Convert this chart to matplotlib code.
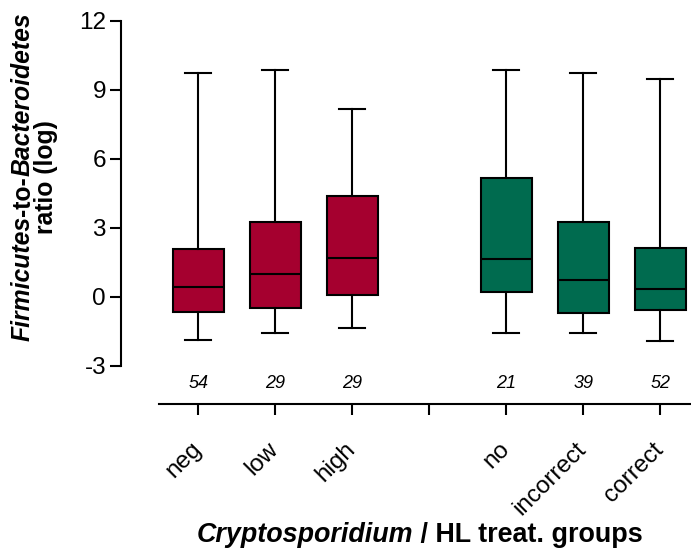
import numpy as np
import matplotlib
matplotlib.use("Agg")
import matplotlib.pyplot as plt

plt.rcParams['font.family'] = ['Liberation Sans', 'DejaVu Sans']
plt.rcParams['axes.unicode_minus'] = False

# ---------------------------
# Data: F/B ratio (log) per group
# ---------------------------
groups = ['neg', 'low', 'high', 'no', 'incorrect', 'correct']
whislo = [-1.90, -1.59, -1.38, -1.59, -1.57, -1.91]
q1 = [-0.65, -0.50, 0.07, 0.22, -0.70, -0.58]
med = [0.42, 0.97, 1.67, 1.65, 0.73, 0.35]
q3 = [2.07, 3.26, 4.36, 5.15, 3.26, 2.10]
whishi = [9.74, 9.86, 8.16, 9.86, 9.73, 9.47]
n_obs = [54, 29, 29, 21, 39, 52]

RED = '#A5002F'
GREEN = '#006B4F'
colors = [RED, RED, RED, GREEN, GREEN, GREEN]

# two blocks of three boxes with an empty slot between them
xpos = [1, 2, 3, 5, 6, 7]
tick_pos = [1, 2, 3, 4, 5, 6, 7]
tick_lab = ['neg', 'low', 'high', '', 'no', 'incorrect', 'correct']

W, H = 691, 552
fig = plt.figure(figsize=(W / 100, H / 100), dpi=100)
ax = fig.add_axes([121.3 / W, (H - 404.3) / H, 1 - 121.3 / W, (404.3 - 13.8) / H])

stats = []
for i in range(len(groups)):
    stats.append(dict(label=groups[i], whislo=whislo[i], q1=q1[i], med=med[i],
                      q3=q3[i], whishi=whishi[i], fliers=[]))

lw = 1.5
bp = ax.bxp(stats, positions=xpos, widths=0.667, capwidths=0.34,
            patch_artist=True, showfliers=False,
            boxprops=dict(linewidth=lw, edgecolor='black'),
            medianprops=dict(linewidth=lw, color='black'),
            whiskerprops=dict(linewidth=lw, color='black'),
            capprops=dict(linewidth=lw, color='black'))
for patch, c in zip(bp['boxes'], colors):
    patch.set_facecolor(c)

# group sizes above the x axis
for x, n in zip(xpos, n_obs):
    ax.text(x, -3.78, str(n), ha='center', va='center', fontsize=13, style='italic')

ax.set_xlim(0, 7.40)
ax.set_ylim(-4.68, 12.3)
ax.set_yticks([-3, 0, 3, 6, 9, 12])
ax.set_xticks(tick_pos)
ax.set_xticklabels(tick_lab, rotation=45, ha='right', va='center',
                   rotation_mode='anchor', fontsize=17.5)

for s in ['top', 'right']:
    ax.spines[s].set_visible(False)
ax.spines['left'].set_bounds(-3, 12)
ax.spines['bottom'].set_bounds(0.49, 7.40)
ax.spines['left'].set_linewidth(lw)
ax.spines['bottom'].set_linewidth(lw)
ax.tick_params(axis='y', direction='out', length=8, width=lw, labelsize=17.5, pad=3)
ax.tick_params(axis='x', direction='out', length=8, width=lw, pad=22)
ax.set_facecolor('none')


def styled_line(pieces, x, y, size, rotation=0):
    # lay out bold text pieces (some italic) one after another, centred on (x, y) in pixels
    r = fig.canvas.get_renderer()
    widths = []
    for s, st in pieces:
        t = fig.text(0, 0, s, fontsize=size, fontweight='bold', style=st)
        widths.append(t.get_window_extent(r).width)
        t.remove()
    ang = np.deg2rad(rotation)
    ux, uy = np.cos(ang), np.sin(ang)
    pos = -sum(widths) / 2
    for (s, st), w in zip(pieces, widths):
        fig.text(x + ux * pos, y + uy * pos, s, transform=None, fontsize=size,
                 fontweight='bold', style=st, ha='left', va='baseline',
                 rotation=rotation, rotation_mode='anchor')
        pos += w


styled_line([('Cryptosporidium', 'italic'), (' / HL treat. groups', 'normal')],
            420, H - 542, 19.4)
styled_line([('Firmicutes', 'italic'), ('-to-', 'normal'), ('Bacteroidetes', 'italic')],
            30, H - 177, 17.8, rotation=90)
styled_line([('ratio (log)', 'normal')], 53, H - 177, 17.8, rotation=90)

fig.savefig('out.png', dpi=100)
